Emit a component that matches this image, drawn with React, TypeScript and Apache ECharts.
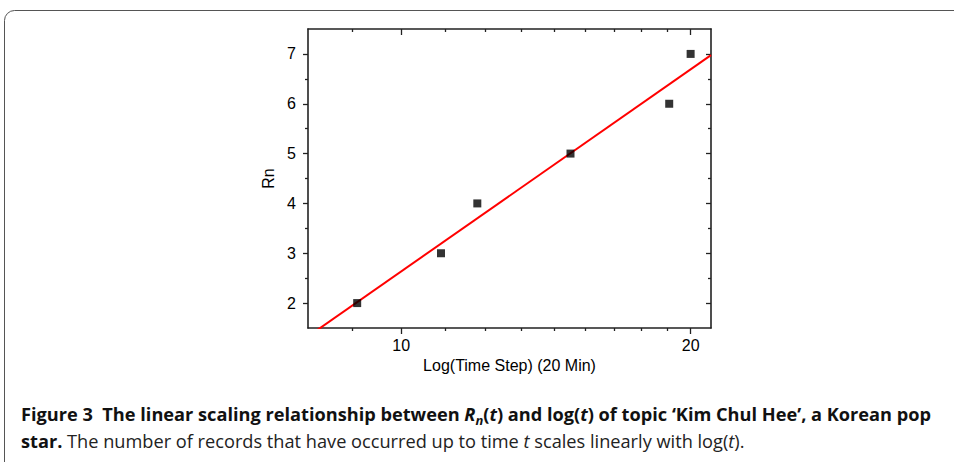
import React, { useEffect, useRef } from "react";
import * as echarts from "echarts";

// ---- data ----
const timeSteps = [9, 11, 12, 15, 19, 20];
const rnValues = [2, 3, 4, 5, 6, 7];
const xRange = [8, 21];
const yRange = [1.5, 7.5];
const xMajorTicks = [10, 20];
const xMinorTicks = [8.889, 11.111, 12.222, 13.333, 14.444, 15.556, 16.667, 17.778, 18.889];
const yMajorTicks = [2, 3, 4, 5, 6, 7];
const yMinorTicks = [2.5, 3.5, 4.5, 5.5, 6.5];
const xAxisTitle = "Log(Time Step) (20 Min)";
const yAxisTitle = "Rn";

const lg = (v: number) => Math.log10(v);

// least-squares linear fit of Rn against log(t)
function linearFit(xs: number[], ys: number[]) {
  const n = xs.length;
  const mx = xs.reduce((a, b) => a + b, 0) / n;
  const my = ys.reduce((a, b) => a + b, 0) / n;
  let sxy = 0;
  let sxx = 0;
  for (let i = 0; i < n; i++) {
    sxy += (xs[i] - mx) * (ys[i] - my);
    sxx += (xs[i] - mx) * (xs[i] - mx);
  }
  const slope = sxy / sxx;
  return { slope, intercept: my - slope * mx };
}

const AXIS_COLOR = "#222";
const AXIS_FONT = "'Liberation Sans', Arial, sans-serif";

function makeX(position: "top" | "bottom", ticks: number[], len: number, inside: boolean, showLine: boolean, labels: boolean, name?: string) {
  return {
    type: "value",
    position,
    min: lg(xRange[0]),
    max: lg(xRange[1]),
    name,
    nameLocation: "middle",
    nameGap: 24,
    nameTextStyle: { color: "#000", fontSize: 16, fontFamily: AXIS_FONT },
    axisLine: { show: showLine, onZero: false, lineStyle: { color: AXIS_COLOR, width: 1.6 } },
    axisTick: { show: true, inside, length: len, customValues: ticks.map(lg), lineStyle: { color: AXIS_COLOR, width: 1.3 } },
    axisLabel: labels
      ? {
          show: true,
          customValues: ticks.map(lg),
          margin: 9,
          color: "#000",
          fontSize: 16,
          fontFamily: AXIS_FONT,
          formatter: (v: number) => String(Math.round(Math.pow(10, v))),
        }
      : { show: false },
    splitLine: { show: false },
  };
}

function makeY(position: "left" | "right", ticks: number[], len: number, inside: boolean, showLine: boolean, labels: boolean, name?: string) {
  return {
    type: "value",
    position,
    min: yRange[0],
    max: yRange[1],
    name,
    nameLocation: "middle",
    nameGap: 32,
    nameTextStyle: { color: "#000", fontSize: 16, fontFamily: AXIS_FONT },
    axisLine: { show: showLine, onZero: false, lineStyle: { color: AXIS_COLOR, width: 1.6 } },
    axisTick: { show: true, inside, length: len, customValues: ticks, lineStyle: { color: AXIS_COLOR, width: 1.3 } },
    axisLabel: labels
      ? { show: true, customValues: ticks, margin: 12, color: "#000", fontSize: 16, fontFamily: AXIS_FONT }
      : { show: false },
    splitLine: { show: false },
  };
}

export default function App() {
  const ref = useRef<HTMLDivElement>(null);

  useEffect(() => {
    if (!ref.current) return;
    const chart = echarts.init(ref.current, null, { renderer: "svg" });
    const lx = timeSteps.map(lg);
    const fit = linearFit(lx, rnValues);
    const fitLine = xRange.map((t) => [lg(t), fit.intercept + fit.slope * lg(t)]);
    const points = timeSteps.map((t, i) => [lg(t), rnValues[i]]);

    const capFont = "'Open Sans', 'Noto Sans', sans-serif";
    const capSize = 18.2;
    const LH = 24;
    const rich = {
      b: { fontFamily: capFont, fontSize: capSize, fontWeight: "bold", fill: "#111", lineHeight: LH },
      bi: { fontFamily: capFont, fontSize: capSize, fontWeight: "bold", fontStyle: "italic", fill: "#111", lineHeight: LH },
      sub: { fontFamily: capFont, fontSize: 13, fontWeight: "bold", fontStyle: "italic", fill: "#111", lineHeight: 12, verticalAlign: "bottom" },
      r: { fontFamily: capFont, fontSize: capSize, fill: "#222", lineHeight: LH },
      ri: { fontFamily: capFont, fontSize: capSize, fontStyle: "italic", fill: "#222", lineHeight: LH },
    };

    chart.setOption({
      animation: false,
      backgroundColor: "#ffffff",
      grid: { left: 308, right: 243, top: 29, bottom: 134, containLabel: false },
      xAxis: [
        makeX("bottom", xMajorTicks, 6, false, true, true, xAxisTitle),
        makeX("bottom", xMinorTicks, 3, false, false, false),
        makeX("top", xMajorTicks, 6, true, true, false),
        makeX("top", xMinorTicks, 3, true, false, false),
      ],
      yAxis: [
        makeY("left", yMajorTicks, 5, false, true, true, yAxisTitle),
        makeY("left", yMinorTicks, 3, false, false, false),
        makeY("right", yMajorTicks, 5, true, true, false),
        makeY("right", yMinorTicks, 3, true, false, false),
      ],
      series: [
        {
          type: "line",
          xAxisIndex: 0,
          yAxisIndex: 0,
          data: fitLine,
          showSymbol: false,
          clip: true,
          lineStyle: { color: "#ff0000", width: 2 },
          z: 2,
        },
        {
          type: "scatter",
          xAxisIndex: 0,
          yAxisIndex: 0,
          data: points,
          symbol: "rect",
          symbolSize: 8,
          itemStyle: { color: "#000000" },
          z: 3,
        },
      ],
      graphic: [
        {
          type: "rect",
          silent: true,
          shape: { x: 4.5, y: 10.5, width: 1000, height: 500, r: 10 },
          style: { fill: "none", stroke: "#555", lineWidth: 1 },
        },
        {
          type: "text",
          x: 21,
          y: 402,
          style: {
            text:
              "{b|Figure 3  The linear scaling relationship between }{bi|R}{sub|n}{b|(}{bi|t}{b|) and log(}{bi|t}{b|) of topic ‘Kim Chul Hee’, a Korean pop}",
            rich,
          },
        },
        {
          type: "text",
          x: 21,
          y: 429,
          style: {
            text: "{b|star.}{r| The number of records that have occurred up to time }{ri|t}{r| scales linearly with log(}{ri|t}{r|).}",
            rich,
          },
        },
      ],
    });
    return () => chart.dispose();
  }, []);

  return <div ref={ref} style={{ position: "absolute", left: 0, top: 0, width: 954, height: 462 }} />;
}
